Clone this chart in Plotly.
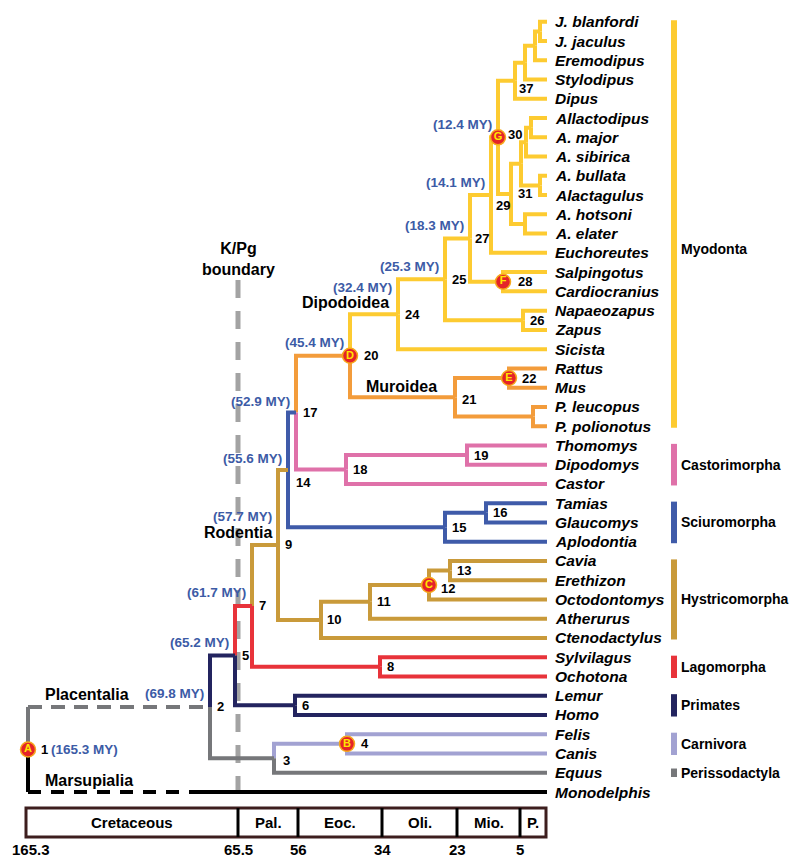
import plotly.graph_objects as go

# ---------------- data ----------------
tips = ["J. blanfordi", "J. jaculus", "Eremodipus", "Stylodipus", "Dipus",
        "Allactodipus", "A. major", "A. sibirica", "A. bullata", "Alactagulus",
        "A. hotsoni", "A. elater", "Euchoreutes", "Salpingotus", "Cardiocranius",
        "Napaeozapus", "Zapus", "Sicista", "Rattus", "Mus", "P. leucopus",
        "P. polionotus", "Thomomys", "Dipodomys", "Castor", "Tamias", "Glaucomys",
        "Aplodontia", "Cavia", "Erethizon", "Octodontomys", "Atherurus",
        "Ctenodactylus", "Sylvilagus", "Ochotona", "Lemur", "Homo", "Felis",
        "Canis", "Equus", "Monodelphis"]

# internal nodes (listed children-first), their children and schematic depth
node_names = ["jJ", "jJE", "jJES", "37", "aAM", "aAMS", "aBA", "aX", "aHE", "31",
              "30", "29", "28", "27", "26", "25", "24", "22", "pP", "21", "20",
              "19", "18", "17", "16", "15", "14", "13", "12", "11", "10", "9",
              "8", "7", "6", "5", "4", "3", "2", "1"]
node_children = [["J. blanfordi", "J. jaculus"], ["jJ", "Eremodipus"],
                 ["jJE", "Stylodipus"], ["jJES", "Dipus"],
                 ["Allactodipus", "A. major"], ["aAM", "A. sibirica"],
                 ["A. bullata", "Alactagulus"], ["aAMS", "aBA"],
                 ["A. hotsoni", "A. elater"], ["aX", "aHE"],
                 ["37", "31"], ["30", "Euchoreutes"],
                 ["Salpingotus", "Cardiocranius"], ["29", "28"],
                 ["Napaeozapus", "Zapus"], ["27", "26"], ["25", "Sicista"],
                 ["Rattus", "Mus"], ["P. leucopus", "P. polionotus"], ["22", "pP"],
                 ["24", "21"], ["Thomomys", "Dipodomys"], ["19", "Castor"],
                 ["20", "18"], ["Tamias", "Glaucomys"], ["16", "Aplodontia"],
                 ["17", "15"], ["Cavia", "Erethizon"], ["13", "Octodontomys"],
                 ["12", "Atherurus"], ["11", "Ctenodactylus"], ["14", "10"],
                 ["Sylvilagus", "Ochotona"], ["9", "8"], ["Lemur", "Homo"],
                 ["7", "6"], ["Felis", "Canis"], ["4", "Equus"], ["5", "3"],
                 ["2", "Monodelphis"]]
node_depth = [532, 527, 517, 507, 523, 518, 532, 513, 517, 503,
              490, 483, 495, 462, 515, 437, 390, 501, 525, 447, 342,
              459, 338, 288, 478, 437, 280, 442, 421, 362, 313, 270,
              372, 244, 287, 227, 339, 266, 202, 20]
tip_depth = 539

age_nodes = ["1", "2", "5", "7", "9", "14", "17", "20", "24", "25", "27", "29", "30"]
age_values = [165.3, 69.8, 65.2, 61.7, 57.7, 55.6, 52.9, 45.4, 32.4, 25.3, 18.3, 14.1, 12.4]

circle_nodes = ["1", "4", "12", "20", "22", "28", "30"]
circle_letters = ["A", "B", "C", "D", "E", "F", "G"]

group_names = ["Myodonta", "Castorimorpha", "Sciuromorpha", "Hystricomorpha",
               "Lagomorpha", "Primates", "Carnivora", "Perissodactyla"]
group_first = [0, 22, 25, 28, 33, 35, 37, 39]
group_last = [21, 24, 27, 32, 34, 36, 38, 39]

period_names = ["Cretaceous", "Pal.", "Eoc.", "Oli.", "Mio.", "P."]
period_edges = [18, 230, 290, 374, 449, 512, 538]
edge_labels = ["165.3", "65.5", "56", "34", "23", "5"]

clade_names = ["Placentalia", "Marsupialia", "Rodentia", "Dipodoidea", "Muroidea"]

# ---------------- styles ----------------
GRAY = "#76777A"
BLACK = "#000000"
NAVY = "#23245F"
LAV = "#A2A2D2"
RED = "#E8333A"
GOLD = "#C99A3A"
BLUE = "#3F5BA9"
ORANGE = "#F39C3B"
PINK = "#DF71A9"
YELLOW = "#FDCB31"
AGE_BLUE = "#3C5BA6"
group_colors = [YELLOW, PINK, BLUE, GOLD, RED, NAVY, LAV, GRAY]
color_override = {"2": GRAY, "Monodelphis": BLACK, "5": NAVY, "3": GRAY,
                  "4": LAV, "7": RED, "6": NAVY, "9": GOLD, "17": BLUE,
                  "15": BLUE, "20": ORANGE, "18": PINK, "24": YELLOW}
FONT = "Liberation Sans, Arial, sans-serif"
LW = 4

# ---------------- layout of tree ----------------
pos = {t: (tip_depth, i) for i, t in enumerate(tips)}
children = dict(zip(node_names, node_children))
for n, d in zip(node_names, node_depth):
    c = children[n]
    pos[n] = (d, sum(pos[k][1] for k in c) / len(c))
parent = {k: n for n in node_names for k in children[n]}

color = {}
def assign(n, col):
    color[n] = color_override.get(n, col)
    for k in children.get(n, []):
        assign(k, color[n])
assign("1", BLACK)

segs = {}
def add(key, pts):
    segs.setdefault(key, []).append(pts)

MARS_DASH_END = 188
for k, p in parent.items():
    px, py = pos[p]
    kx, ky = pos[k]
    c = color[k]
    if k == "2":
        add((c, "solid"), [(px, py), (px, ky)])
        add((c, "14px,9px"), [(px, ky), (kx, ky)])
    elif k == "Monodelphis":
        add((c, "solid"), [(px, py), (px, ky)])
        add((c, "13px,10px"), [(px, ky), (MARS_DASH_END, ky)])
        add((c, "solid"), [(MARS_DASH_END, ky), (kx, ky)])
    else:
        add((c, "solid"), [(px, py), (px, ky), (kx, ky)])

fig = go.Figure()

H = 857
def paper_y(px):
    return 1 - px / H

# K/Pg boundary dashed line
kpg = period_edges[1]
fig.add_shape(type="line", xref="x", yref="paper", x0=kpg, x1=kpg,
              y0=paper_y(272), y1=paper_y(797),
              line=dict(color="#A3A3A3", width=5, dash="18px,13px"), layer="below")

for (c, dash), plist in segs.items():
    xs, ys = [], []
    for pts in plist:
        for x, y in pts:
            xs.append(x); ys.append(y)
        xs.append(None); ys.append(None)
    fig.add_trace(go.Scatter(x=xs, y=ys, mode="lines", hoverinfo="skip",
                             line=dict(color=c, width=LW, dash=dash)))

# tip labels
for i, t in enumerate(tips):
    fig.add_annotation(x=tip_depth, y=i, text="<b><i>" + t + "</i></b>",
                       xanchor="left", yanchor="middle", xshift=6, showarrow=False,
                       font=dict(family=FONT, size=15.5, color="black"))

# node number labels
num_shift = {"1": (11, 0), "4": (12, 0), "12": (10, -3), "20": (12, 0),
             "22": (11, 0), "28": (13, 0), "30": (8, 3), "14": (6, -13),
             "29": (3, -10), "37": (2, -8), "21": (5, -2), "3": (7, -2),
             "27": (3, 0), "10": (4, 0)}
for n in node_names:
    if not n.isdigit():
        continue
    x, y = pos[n]
    dx, dy = num_shift.get(n, (5, 0))
    fig.add_annotation(x=x, y=y, text="<b>" + n + "</b>", xanchor="left",
                       yanchor="middle", xshift=dx, yshift=dy, showarrow=False,
                       font=dict(family=FONT, size=13, color="black"))

# age labels
age_shift = {"9": 28, "24": 27, "14": 11, "17": 11}
for n, a in zip(age_nodes, age_values):
    x, y = pos[n]
    txt = "<b>(%.1f MY)</b>" % a
    if n == "1":
        fig.add_annotation(x=x, y=y, text=txt, xanchor="left", yanchor="middle",
                           xshift=21, showarrow=False,
                           font=dict(family=FONT, size=13.5, color=AGE_BLUE))
    else:
        fig.add_annotation(x=x, y=y, text=txt, xanchor="right", yanchor="middle",
                           xshift=-4, yshift=age_shift.get(n, 13), showarrow=False,
                           font=dict(family=FONT, size=13.5, color=AGE_BLUE))

# circles
cx = [pos[n][0] for n in circle_nodes]
cy = [pos[n][1] for n in circle_nodes]
fig.add_trace(go.Scatter(x=cx, y=cy, mode="markers+text",
                         text=["<b>%s</b>" % l for l in circle_letters],
                         textposition="middle center", hoverinfo="skip",
                         textfont=dict(family=FONT, size=11, color="#FFE600"),
                         marker=dict(size=15, color="#E42328",
                                     line=dict(color="#F6A81C", width=1.5))))

# clade labels
clade_anchor = [("1", "2", "left", 15, 12), ("1", "Monodelphis", "left", 15, 12),
                ("9", "9", "right", -3, 12), ("24", "24", "right", -7, 12),
                ("21", "21", "right", -16, 11)]
for name, (nx, ny, anc, dx, dy) in zip(clade_names, clade_anchor):
    fig.add_annotation(x=pos[nx][0], y=pos[ny][1], text="<b>" + name + "</b>",
                       xanchor=anc, yanchor="middle", xshift=dx, yshift=dy,
                       showarrow=False, font=dict(family=FONT, size=16, color="black"))

fig.add_annotation(x=kpg, y=paper_y(251), yref="paper", text="<b>K/Pg<br>boundary</b>",
                   xanchor="center", yanchor="middle", showarrow=False,
                   font=dict(family=FONT, size=16, color="black"))

# group bars
BAR_X0, BAR_X1 = 663, 669
for g, f, l, c in zip(group_names, group_first, group_last, group_colors):
    pad = 0.22 if f == l else 0.08
    fig.add_shape(type="rect", x0=BAR_X0, x1=BAR_X1, y0=f - pad, y1=l + pad,
                  line=dict(width=0), fillcolor=c)
    fig.add_annotation(x=BAR_X1, y=(f + l) / 2, text="<b>" + g + "</b>",
                       xanchor="left", yanchor="middle", xshift=2,
                       yshift=-25 if g == "Myodonta" else 0, showarrow=False,
                       font=dict(family=FONT, size=14, color="black"))

# timescale
BOX_TOP, BOX_BOT = paper_y(800), paper_y(829)
fig.add_shape(type="rect", xref="x", yref="paper", x0=period_edges[0], x1=period_edges[-1],
              y0=BOX_BOT, y1=BOX_TOP, line=dict(color="#3D1E1E", width=3), fillcolor="white")
for e in period_edges[1:-1]:
    fig.add_shape(type="line", xref="x", yref="paper", x0=e, x1=e, y0=BOX_BOT, y1=BOX_TOP,
                  line=dict(color="black", width=3))
for i, nm in enumerate(period_names):
    fig.add_annotation(x=(period_edges[i] + period_edges[i + 1]) / 2, y=paper_y(814.5),
                       yref="paper", text="<b>" + nm + "</b>", showarrow=False,
                       xanchor="center", yanchor="middle",
                       font=dict(family=FONT, size=15, color="black"))
for e, lab in zip(period_edges[:-1], edge_labels):
    fig.add_annotation(x=e, y=paper_y(841), yref="paper", text="<b>" + lab + "</b>",
                       showarrow=False, xanchor="center", yanchor="middle",
                       xshift=5 if lab == "165.3" else 0,
                       font=dict(family=FONT, size=15, color="black"))

ROW0, ROWSTEP = 13.8, 19.255
fig.update_layout(width=800, height=H, margin=dict(l=0, r=0, t=0, b=0),
                  paper_bgcolor="white", plot_bgcolor="white", showlegend=False,
                  xaxis=dict(range=[0, 800], visible=False, fixedrange=True),
                  yaxis=dict(range=[(H - ROW0) / ROWSTEP, -ROW0 / ROWSTEP],
                             visible=False, fixedrange=True))
fig.write_html("out.html")
